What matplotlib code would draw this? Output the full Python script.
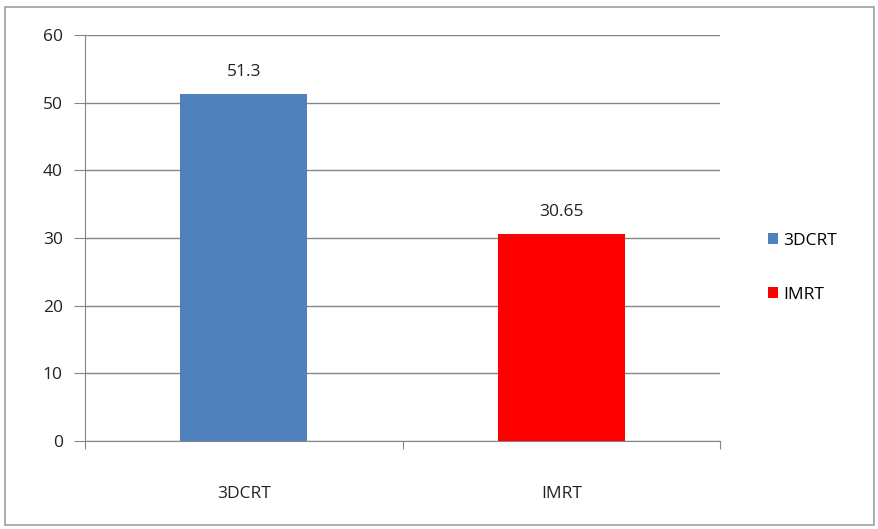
import matplotlib.pyplot as plt
from matplotlib.patches import Rectangle, Patch

categories = ['3DCRT', 'IMRT']
values = [51.3, 30.65]
labels = ['51.3', '30.65']
colors = ['#4F81BD', '#FF0000']
yticks = [0, 10, 20, 30, 40, 50, 60]

plt.rcParams['font.family'] = ['Open Sans', 'DejaVu Sans']
fs = 12.5

fig = plt.figure(figsize=(8.79, 5.29), dpi=100)
# outer chart border
fig.patches.append(Rectangle((5 / 879, 4 / 529), 869 / 879, 518 / 529, transform=fig.transFigure,
                             fill=False, edgecolor='#A0A0A0', linewidth=1.2))

ax = fig.add_axes([85 / 879, 88 / 529, 635 / 879, 406 / 529])
x = range(len(categories))
ax.bar(x, values, width=0.4, color=colors, zorder=3)

for i, (v, lab) in enumerate(zip(values, labels)):
    ax.text(i, v + 2.0, lab, ha='center', va='bottom', fontsize=fs, color='#222222')

ax.set_xlim(-0.5, 1.5)
ax.set_ylim(0, 60)
ax.set_yticks(yticks)
ax.set_yticklabels([str(t) for t in yticks], fontsize=fs, color='#222222')
ax.yaxis.grid(True, color='#868686', linewidth=1.0, zorder=0)
ax.tick_params(axis='y', length=8, color='#868686', pad=8)

# category labels centered, with separator ticks at boundaries
ax.set_xticks([-0.5, 0.5, 1.5])
ax.set_xticklabels([])
ax.tick_params(axis='x', length=6, color='#868686', direction='out')
for i, c in enumerate(categories):
    ax.text(i, -6.6, c, ha='center', va='top', fontsize=fs, color='#222222')

for s in ['top', 'right']:
    ax.spines[s].set_visible(False)
ax.spines['left'].set_color('#868686')
ax.spines['bottom'].set_color('#868686')

handles = [Patch(facecolor=colors[i], label=categories[i]) for i in range(len(categories))]
fig.legend(handles=handles, loc='center left', bbox_to_anchor=(752 / 879, 1 - 268 / 529),
           frameon=False, fontsize=fs, handlelength=0.6, handleheight=0.6,
           handletextpad=0.3, labelspacing=2.2)

fig.savefig('out.png', dpi=100)
